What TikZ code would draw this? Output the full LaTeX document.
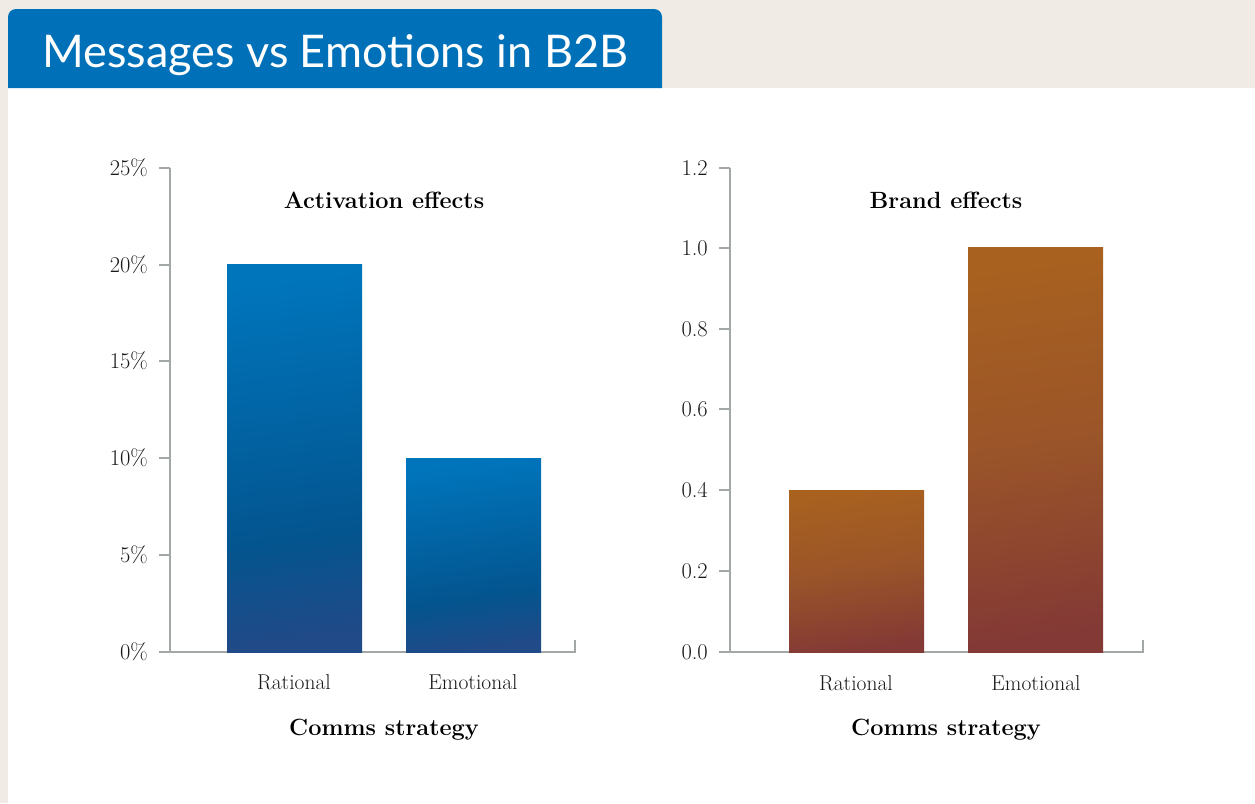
\documentclass[tikz,border=0pt]{standalone}
\usepackage{fontspec}
\newfontfamily\titlefont{Lato}
\definecolor{bgbeige}{HTML}{F0EBE4}
\definecolor{titleblue}{HTML}{0071B8}
\definecolor{axisgray}{HTML}{A3A8A7}
\definecolor{blueA}{HTML}{0075BC}
\definecolor{blueB}{HTML}{03558F}
\definecolor{blueC}{HTML}{204A88}
\definecolor{brownA}{HTML}{A8611F}
\definecolor{brownB}{HTML}{9A5429}
\definecolor{brownC}{HTML}{833935}
\definecolor{textdark}{HTML}{1A1A1A}
\pgfdeclareverticalshading{blueshade}{100bp}{color(0bp)=(blueC); color(25bp)=(blueC); color(39bp)=(blueB); color(75bp)=(blueA); color(100bp)=(blueA)}
\pgfdeclareverticalshading{brownshade}{100bp}{color(0bp)=(brownC); color(25bp)=(brownC); color(50bp)=(brownB); color(75bp)=(brownA); color(100bp)=(brownA)}
\begin{document}
\begin{tikzpicture}[x=1pt,y=-1pt,
  axis/.style={draw=axisgray,line width=1.5pt},
  ticklabel/.style={anchor=base east,inner sep=0pt,text=textdark,font=\fontsize{22.5}{26}\selectfont},
  catlabel/.style={anchor=base,inner sep=0pt,text=textdark,font=\fontsize{21.5}{25}\selectfont},
  charttitle/.style={anchor=base,inner sep=0pt,text=black,font=\bfseries\fontsize{23.5}{28}\selectfont},
  bluebar/.style={shading=blueshade,shading angle=8},
  brownbar/.style={shading=brownshade,shading angle=8}]
\fill[bgbeige] (0,0) rectangle (1255,803);
\useasboundingbox (0,0) rectangle (1255,803);
\fill[white] (8,88) rectangle (1255,803);
\fill[titleblue] (8,88) {[rounded corners=8pt] -- (8,9) -- (662,9)} -- (662,88) -- cycle;
\node[anchor=base west,inner sep=0pt,text=white,font=\titlefont\fontsize{45}{50}\selectfont] (title) at (42,67) {Messages vs Emotions in B2B};

% ---------- left chart ----------
\draw[axis] (170,168) -- (170,652) -- (575,652) -- (575,640);
\foreach \yy/\lab in {168/25\%,265/20\%,361/15\%,458/10\%,555/5\%,652/0\%}{
  \draw[axis] (159,\yy) -- (170,\yy);
  \node[ticklabel] at (148,\yy+7.5) {\lab};
}
\shade[bluebar] (227,264) rectangle (362,652.7);
\shade[bluebar] (406,458) rectangle (541,652.7);
\node[charttitle] (t1) at (384,208) {Activation effects};
\node[catlabel] (r1) at (294,689) {Rational};
\node[catlabel] (e1) at (473,689) {Emotional};
\node[charttitle] (x1) at (384,735) {Comms strategy};

% ---------- right chart ----------
\draw[axis] (730,168) -- (730,652) -- (1143,652) -- (1143,640);
\foreach \yy/\lab in {168/1.2,248/1.0,329/0.8,409/0.6,490/0.4,571/0.2,652/0.0}{
  \draw[axis] (719,\yy) -- (730,\yy);
  \node[ticklabel] at (708,\yy+7.5) {\lab};
}
\shade[brownbar] (789,490) rectangle (924,652.7);
\shade[brownbar] (968,247) rectangle (1103,652.7);
\node[charttitle] (t2) at (946,208) {Brand effects};
\node[catlabel] (r2) at (856,690) {Rational};
\node[catlabel] (e2) at (1036,690) {Emotional};
\node[charttitle] (x2) at (946,735) {Comms strategy};
\end{tikzpicture}
\end{document}
